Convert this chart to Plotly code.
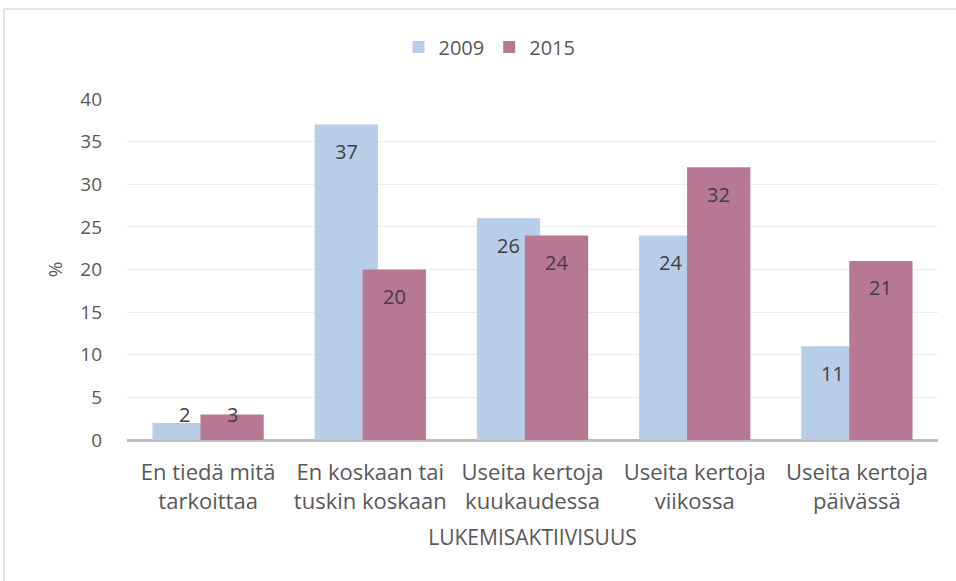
import plotly.graph_objects as go

categories = ["En tiedä mitä<br>tarkoittaa", "En koskaan tai<br>tuskin koskaan",
              "Useita kertoja<br>kuukaudessa", "Useita kertoja<br>viikossa",
              "Useita kertoja<br>päivässä"]
series_names = ["2009", "2015"]
values_2009 = [2, 37, 26, 24, 11]
values_2015 = [3, 20, 24, 32, 21]
y_ticks = [0, 5, 10, 15, 20, 25, 30, 35, 40]

W, H = 956, 581
ML, MR, MT, MB = 127, 18, 99, 141
plot_w = W - ML - MR
plot_h = H - MT - MB
ppu = plot_h / 40.0

FONT = "Open Sans"
colors = ["#B8CDE8", "#B77894"]
bar_w = 0.39
offsets = [-0.343, -0.047]

xs = list(range(len(categories)))
fig = go.Figure()
for name, vals, col, off in zip(series_names, [values_2009, values_2015], colors, offsets):
    fig.add_trace(go.Bar(
        x=xs, y=vals, name=name, width=bar_w, offset=off,
        marker=dict(color=col, line=dict(width=0)),
        hoverinfo="y",
    ))

annotations = []
for vals, off in zip([values_2009, values_2015], offsets):
    for i, v in enumerate(vals):
        shift = -min(27, v * ppu - 26)
        annotations.append(dict(
            x=i + off + bar_w / 2, y=v, xref="x", yref="y",
            text=str(v), showarrow=False, yanchor="middle", yshift=shift,
            font=dict(family=FONT, size=20, color="#404040"),
        ))

fig.update_layout(
    width=W, height=H,
    margin=dict(l=ML, r=MR, t=MT, b=MB),
    paper_bgcolor="white", plot_bgcolor="white",
    barmode="overlay",
    font=dict(family=FONT, size=19, color="#595959"),
    legend=dict(orientation="h", xref="container", yref="container",
                x=0.512, xanchor="center", y=1 - 47 / H, yanchor="middle",
                font=dict(family=FONT, size=20, color="#595959"),
                itemwidth=30, traceorder="normal"),
    annotations=annotations,
    xaxis=dict(range=[-0.5, 4.5], tickvals=xs, ticktext=categories,
               showgrid=False, zeroline=False, showline=False,
               ticks="", ticklabelstandoff=17,
               tickfont=dict(family=FONT, size=22, color="#595959"),
               title=dict(text="LUKEMISAKTIIVISUUS", standoff=16,
                          font=dict(family=FONT, size=21, color="#595959"))),
    yaxis=dict(range=[0, 40], tickvals=y_ticks, showgrid=True,
               gridcolor="#EDEDED", gridwidth=1.3,
               zeroline=True, zerolinecolor="#BFBFBF", zerolinewidth=3,
               ticks="", ticklabelstandoff=24,
               tickfont=dict(family=FONT, size=19, color="#595959"),
               title=dict(text="%", standoff=12,
                          font=dict(family=FONT, size=19, color="#595959"))),
)

def px_to_paper_x(px):
    return (px - ML) / plot_w

def py_to_paper_y(py):
    return (H - MB - py) / plot_h

border_col = "#D9D9D9"
fig.add_shape(type="line", xref="paper", yref="paper",
              x0=px_to_paper_x(4), x1=px_to_paper_x(W + 5),
              y0=py_to_paper_y(9), y1=py_to_paper_y(9),
              line=dict(color=border_col, width=1.5))
fig.add_shape(type="line", xref="paper", yref="paper",
              x0=px_to_paper_x(4), x1=px_to_paper_x(4),
              y0=py_to_paper_y(9), y1=py_to_paper_y(H + 5),
              line=dict(color=border_col, width=1.5))

fig.write_html("out.html", config={"displayModeBar": False},
               post_script="document.body.style.margin='0';")
